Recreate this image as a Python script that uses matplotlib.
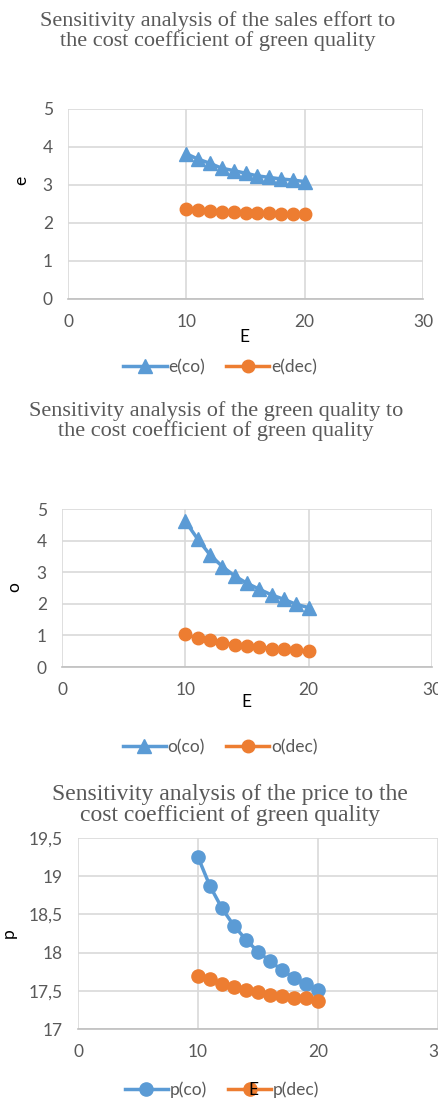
import matplotlib.pyplot as plt

# data
E = [10, 11, 12, 13, 14, 15, 16, 17, 18, 19, 20]

e_co = [3.82, 3.68, 3.57, 3.44, 3.38, 3.31, 3.24, 3.20, 3.16, 3.13, 3.09]
e_dec = [2.36, 2.35, 2.32, 2.29, 2.28, 2.27, 2.26, 2.26, 2.23, 2.24, 2.23]

o_co = [4.61, 4.05, 3.55, 3.18, 2.88, 2.65, 2.46, 2.28, 2.14, 1.98, 1.88]
o_dec = [1.03, 0.91, 0.84, 0.76, 0.71, 0.68, 0.64, 0.58, 0.57, 0.53, 0.50]

p_co = [19.25, 18.87, 18.58, 18.35, 18.17, 18.01, 17.89, 17.77, 17.67, 17.59, 17.51]
p_dec = [17.70, 17.65, 17.59, 17.55, 17.51, 17.48, 17.45, 17.43, 17.41, 17.40, 17.37]

titles = ['Sensitivity analysis of the sales effort to\nthe cost coefficient of green quality',
          'Sensitivity analysis of the green quality to\nthe cost coefficient of green quality',
          'Sensitivity analysis of the price to the\ncost coefficient of green quality']

blue = '#5B9BD5'
orange = '#ED7D31'
grey = '#595959'
grid = '#D9D9D9'

W, H = 438, 1102
fig = plt.figure(figsize=(W / 100, H / 100), dpi=100)

def box(l, t, r, b):
    return [l / W, 1 - b / H, (r - l) / W, (b - t) / H]

def fx(x):
    return x / W

def fy(y):
    return 1 - y / H

tick_font = 'Lato'
fs = 12.5

def style(ax, ylim, yticks, ylabels):
    ax.set_xlim(0, 30)
    ax.set_xticks([0, 10, 20, 30])
    ax.set_ylim(*ylim)
    ax.set_yticks(yticks)
    ax.set_yticklabels(ylabels)
    ax.grid(True, color=grid, linewidth=1.2)
    ax.set_axisbelow(True)
    for s in ['top', 'right', 'left']:
        ax.spines[s].set_visible(False)
    ax.spines['bottom'].set_color('#BFBFBF')
    ax.spines['bottom'].set_linewidth(1.2)
    ax.tick_params(length=0, labelsize=fs, colors=grey, pad=11)
    for lab in ax.get_xticklabels() + ax.get_yticklabels():
        lab.set_fontfamily(tick_font)

def legend(ax, x, y):
    ax.legend(loc='center', bbox_to_anchor=(fx(x), fy(y)), bbox_transform=fig.transFigure,
              ncol=2, frameon=False, handlelength=2.5, columnspacing=1.2, handletextpad=0.1,
              prop={'family': tick_font, 'size': fs}, labelcolor=grey)

# chart 1
ax1 = fig.add_axes(box(68, 109, 423, 299))
ax1.plot(E, e_co, color=blue, lw=2.5, marker='^', ms=10, label='e(co)')
ax1.plot(E, e_dec, color=orange, lw=2.5, marker='o', ms=9, label='e(dec)')
style(ax1, (0, 5), [0, 1, 2, 3, 4, 5], ['0', '1', '2', '3', '4', '5'])
fig.text(fx(218), fy(31), titles[0], ha='center', va='center', fontsize=16,
         family='Liberation Serif', color=grey, linespacing=0.95)
fig.text(fx(21), fy(180), 'e', rotation=90, ha='center', va='center', fontsize=fs, family=tick_font)
fig.text(fx(244), fy(337), 'E', ha='center', va='center', fontsize=fs, family=tick_font)
legend(ax1, 220, 367)

# chart 2
ax2 = fig.add_axes(box(62, 509, 432, 667))
ax2.plot(E, o_co, color=blue, lw=2.5, marker='^', ms=10, label='o(co)')
ax2.plot(E, o_dec, color=orange, lw=2.5, marker='o', ms=9, label='o(dec)')
style(ax2, (0, 5), [0, 1, 2, 3, 4, 5], ['0', '1', '2', '3', '4', '5'])
fig.text(fx(216), fy(421), titles[1], ha='center', va='center', fontsize=16,
         family='Liberation Serif', color=grey, linespacing=0.95)
fig.text(fx(14), fy(587), 'o', rotation=90, ha='center', va='center', fontsize=fs, family=tick_font)
fig.text(fx(246), fy(702), 'E', ha='center', va='center', fontsize=fs, family=tick_font)
legend(ax2, 220, 747)

# chart 3
ax3 = fig.add_axes(box(78, 838, 438, 1029))
ax3.plot(E, p_co, color=blue, lw=2.5, marker='o', ms=9.5, label='p(co)')
ax3.plot(E, p_dec, color=orange, lw=2.5, marker='o', ms=9.5, label='p(dec)')
style(ax3, (17, 19.5), [17, 17.5, 18, 18.5, 19, 19.5], ['17', '17,5', '18', '18,5', '19', '19,5'])
fig.text(fx(230), fy(805), titles[2], ha='center', va='center', fontsize=17,
         family='Liberation Serif', color=grey, linespacing=0.95)
fig.text(fx(9), fy(933), 'p', rotation=90, ha='center', va='center', fontsize=fs, family=tick_font)
legend(ax3, 222, 1090)
fig.text(fx(253), fy(1090), 'E', ha='center', va='center', fontsize=fs, family=tick_font)

fig.savefig('out.png', dpi=100)
